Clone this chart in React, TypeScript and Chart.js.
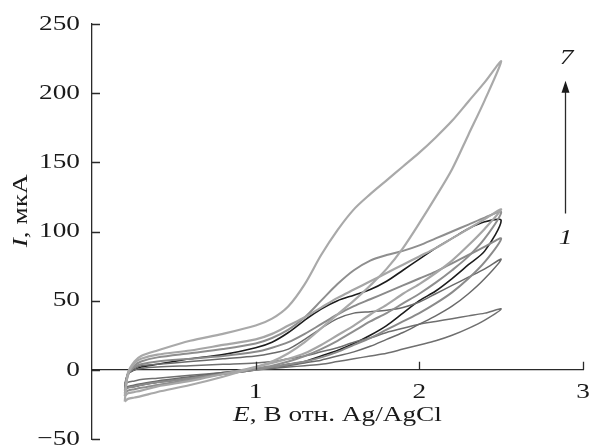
import React, { useEffect, useRef } from "react";
import { Chart, registerables } from "chart.js";

Chart.register(...registerables);

// Potential grid, V vs Ag/AgCl
const potential = [0.2, 0.22, 0.26, 0.3, 0.4, 0.6, 0.8, 1.0, 1.1, 1.2, 1.3, 1.4, 1.5, 1.6, 1.7, 1.8, 1.9, 2.0, 2.1, 2.2, 2.3, 2.4, 2.5];

// Current, µA: anodic sweep (0.2 → 2.5 V) and cathodic sweep, both on the potential grid
const anodic1 = [-10, -3, 0, 1, 2, 3, 4, 5, 6, 8, 10, 13, 16, 20, 23, 27, 30, 33, 35, 37, 39, 41, 44];
const cathodic1 = [-10, -9, -8, -7, -6, -4, -2, 0, 1, 2, 3, 4, 6, 8, 10, 12, 15, 18, 21, 25, 30, 36, 44];

const anodic2 = [-13, -2, 1, 3, 4, 6, 8, 10, 12, 15, 22, 30, 37, 41, 42, 43, 45, 49, 55, 61, 67, 73, 80];
const cathodic2 = [-13, -12, -11, -10, -8, -5, -2, 1, 2, 3, 5, 7, 10, 13, 17, 22, 27, 33, 39, 46, 55, 66, 80];

const anodic3 = [-15, -3, 2, 4, 6, 8, 10, 13, 16, 20, 26, 33, 40, 46, 51, 56, 61, 66, 71, 77, 83, 89, 95];
const cathodic3 = [-15, -13, -12, -11, -9, -6, -3, 0, 2, 4, 6, 9, 13, 18, 23, 29, 35, 41, 48, 56, 66, 78, 95];

const anodic4 = [-13, -3, 0, 2, 4, 8, 11, 16, 20, 27, 36, 44, 50, 54, 58, 64, 72, 80, 88, 95, 102, 107, 108];
const cathodic4 = [-13, -12.5, -12, -11, -9, -6, -3, 0, 2, 4, 6, 10, 14, 19, 25, 32, 41, 50, 57, 66, 76, 86, 108];

const anodic5 = [-17, -4, 3, 6, 9, 12, 15, 19, 23, 29, 38, 50, 62, 72, 79, 83, 86, 90, 95, 100, 105, 110, 114];
const cathodic5 = [-17, -15, -14, -13, -11, -7, -3, 1, 3, 6, 10, 15, 21, 28, 35, 41, 48, 55, 63, 72, 82, 95, 114];

const anodic6 = [-19, -3, 5, 8, 11, 14, 18, 22, 26, 32, 38, 45, 52, 58, 64, 70, 76, 82, 88, 95, 102, 109, 116];
const cathodic6 = [-19, -17, -16, -15, -12, -8, -3, 2, 5, 8, 12, 18, 25, 32, 40, 47, 55, 62, 70, 79, 90, 102, 116];

const anodic7 = [-23, -2, 6, 10, 14, 21, 26, 32, 37, 46, 62, 83, 101, 116, 127, 137, 147, 157, 168, 180, 194, 208, 223];
const cathodic7 = [-23, -21, -20, -19, -16, -11, -5, 2, 6, 12, 20, 30, 40, 50, 61, 73, 88, 106, 125, 145, 170, 195, 223];

const anodicSweeps = [anodic1, anodic2, anodic3, anodic4, anodic5, anodic6, anodic7];
const cathodicSweeps = [cathodic1, cathodic2, cathodic3, cathodic4, cathodic5, cathodic6, cathodic7];

const curveColors = ["#6f6f6f", "#6a6a6a", "#8a8a8a", "#1c1c1c", "#8e8e8e", "#a6a6a6", "#a9a9a9"];
const curveWidths = [1.5, 1.5, 2, 1.6, 2, 2.2, 2.2];

const yTickValues = [-50, 0, 50, 100, 150, 200, 250];
const xTickValues = [1, 2, 3];

const axisColor = "#2a2a2a";
const textColor = "#1a1a1a";
const serif = "'Liberation Serif', 'Times New Roman', serif";
const fontSize = 22;
// the typeface used on this figure runs wide, so text is widened along its baseline
const widen = 1.24;

type Part = { text: string; italic: boolean };

function fontFor(italic: boolean) {
  return `${italic ? "italic " : ""}${fontSize}px ${serif}`;
}

// draws a run of mixed upright/italic text; align is relative to the origin (0,0) after transforms
function drawParts(ctx: CanvasRenderingContext2D, parts: Part[], x: number, y: number, align: "left" | "center" | "right") {
  const widths = parts.map((p) => {
    ctx.font = fontFor(p.italic);
    return ctx.measureText(p.text).width * widen;
  });
  const total = widths.reduce((a, b) => a + b, 0);
  let cursor = align === "left" ? x : align === "center" ? x - total / 2 : x - total;
  ctx.textAlign = "left";
  ctx.textBaseline = "middle";
  parts.forEach((p, i) => {
    ctx.font = fontFor(p.italic);
    ctx.save();
    ctx.translate(cursor, y);
    ctx.scale(widen, 1);
    ctx.fillText(p.text, 0, 0);
    ctx.restore();
    cursor += widths[i];
  });
}

function formatCurrent(v: number) {
  return v < 0 ? "\u2212" + Math.abs(v) : String(v);
}

function loopPoints(anodic: number[], cathodic: number[]) {
  const pts = potential.map((e, i) => ({ x: e, y: anodic[i] }));
  for (let i = potential.length - 2; i >= 0; i--) {
    pts.push({ x: potential[i], y: cathodic[i] });
  }
  return pts;
}

const decorations = {
  id: "decorations",
  beforeDraw(chart: any) {
    const { ctx, width, height } = chart;
    ctx.save();
    ctx.fillStyle = "#ffffff";
    ctx.fillRect(0, 0, width, height);
    ctx.restore();
  },
  afterDraw(chart: any) {
    const { ctx } = chart;
    const xs = chart.scales.x;
    const ys = chart.scales.y;
    const y0 = ys.getPixelForValue(0);
    ctx.save();
    ctx.strokeStyle = axisColor;
    ctx.fillStyle = textColor;
    ctx.lineWidth = 1.3;

    // inward tick marks
    ctx.beginPath();
    yTickValues.forEach((v) => {
      const py = Math.round(ys.getPixelForValue(v)) + 0.5;
      ctx.moveTo(xs.left, py);
      ctx.lineTo(xs.left + 8, py);
    });
    xTickValues.forEach((v) => {
      const px = Math.round(xs.getPixelForValue(v)) + 0.5;
      ctx.moveTo(px, y0);
      ctx.lineTo(px, y0 - 8);
    });
    ctx.stroke();

    // tick labels
    yTickValues.forEach((v) => {
      drawParts(ctx, [{ text: formatCurrent(v), italic: false }], xs.left - 12, ys.getPixelForValue(v), "right");
    });
    xTickValues.forEach((v) => {
      drawParts(ctx, [{ text: String(v), italic: false }], xs.getPixelForValue(v), y0 + 22, "center");
    });

    // axis titles
    drawParts(
      ctx,
      [
        { text: "E", italic: true },
        { text: ", В отн. Ag/AgCl", italic: false },
      ],
      (xs.left + xs.right) / 2,
      ys.getPixelForValue(-33),
      "center"
    );
    ctx.save();
    ctx.translate(21, ys.getPixelForValue(115));
    ctx.rotate(-Math.PI / 2);
    drawParts(
      ctx,
      [
        { text: "I", italic: true },
        { text: ", мкА", italic: false },
      ],
      0,
      0,
      "center"
    );
    ctx.restore();

    // arrow showing cycle order
    const ax = Math.round(xs.getPixelForValue(2.89)) + 0.5;
    const aBottom = ys.getPixelForValue(113);
    const aTip = ys.getPixelForValue(209);
    ctx.beginPath();
    ctx.moveTo(ax, aBottom);
    ctx.lineTo(ax, aTip + 8);
    ctx.stroke();
    ctx.beginPath();
    ctx.moveTo(ax, aTip);
    ctx.lineTo(ax - 4, aTip + 12);
    ctx.lineTo(ax + 4, aTip + 12);
    ctx.closePath();
    ctx.fill();

    drawParts(ctx, [{ text: "7", italic: true }], ax + 1, ys.getPixelForValue(225), "center");
    drawParts(ctx, [{ text: "1", italic: true }], ax, ys.getPixelForValue(95), "center");
    ctx.restore();
  },
};

export default function App() {
  const canvasRef = useRef<HTMLCanvasElement | null>(null);

  useEffect(() => {
    const canvas = canvasRef.current;
    if (!canvas) return;

    const datasets = anodicSweeps.map((a, i) => ({
      label: `${i + 1}`,
      data: loopPoints(a, cathodicSweeps[i]),
      borderColor: curveColors[i],
      borderWidth: curveWidths[i],
      pointRadius: 0,
      tension: 0.3,
      fill: false,
    }));
    // darker cycles are drawn over the lighter ones
    const order = [6, 5, 4, 2, 1, 0, 3];
    const orderedSets = order.map((k) => datasets[k]);

    const chart = new Chart(canvas, {
      type: "line",
      data: { datasets: orderedSets },
      options: {
        animation: false,
        responsive: false,
        devicePixelRatio: 1,
        parsing: false as any,
        layout: { padding: { left: 0, right: 7, top: 24, bottom: 8 } },
        plugins: { legend: { display: false }, tooltip: { enabled: false } },
        scales: {
          x: {
            type: "linear",
            min: 0,
            max: 3,
            position: { y: 0 } as any,
            grid: { display: false, drawTicks: false },
            border: { display: true, color: axisColor, width: 1.3 },
            ticks: { display: false, stepSize: 1 },
            afterFit: (s: any) => {
              s.paddingLeft = 0;
              s.paddingRight = 0;
            },
          },
          y: {
            type: "linear",
            min: -50,
            max: 250,
            position: "left",
            grid: { display: false, drawTicks: false },
            border: { display: true, color: axisColor, width: 1.3 },
            ticks: { display: false, stepSize: 50 },
            afterFit: (s: any) => {
              s.width = 92;
              s.paddingTop = 0;
              s.paddingBottom = 0;
            },
          },
        },
      },
      plugins: [decorations],
    });

    return () => chart.destroy();
  }, []);

  return (
    <div style={{ position: "absolute", left: 0, top: 0, width: 590, height: 447 }}>
      <canvas ref={canvasRef} width={590} height={447} />
    </div>
  );
}
